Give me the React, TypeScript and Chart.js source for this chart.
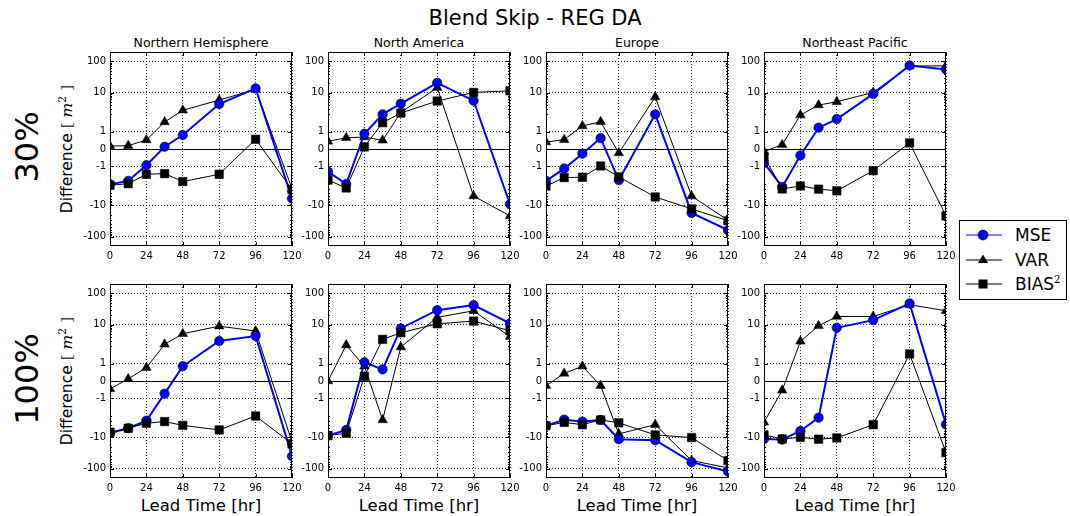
import React, { useEffect, useRef } from 'react';
import { Chart, registerables, LinearScale } from 'chart.js';

// ---------------- data ----------------
const leadTimes = [0, 12, 24, 36, 48, 72, 96, 120];
const xTickValues = [0, 24, 48, 72, 96, 120];
const yTickValues = [-100, -10, -1, 0, 1, 10, 100];
const yTickLabels = ['-100', '-10', '-1', '0', '1', '10', '100'];
const yMinorValues = [2, 3, 4, 5, 6, 7, 8, 9, 20, 30, 40, 50, 60, 70, 80, 90,
  -2, -3, -4, -5, -6, -7, -8, -9, -20, -30, -40, -50, -60, -70, -80, -90];
const regionNames = ['Northern Hemisphere', 'North America', 'Europe', 'Northeast Pacific'];
const rowLabels = ['30%', '100%'];
const seriesNames = ['MSE', 'VAR', 'BIAS'];

// 30 %
const nh30Mse = [-2.1, -1.84, -0.94, 0.13, 0.81, 4.3, 13.6, -6.0];
const nh30Var = [0.17, 0.19, 0.52, 1.56, 2.7, 5.75, 12.6, -2.9];
const nh30Bias = [-2.25, -2.0, -1.46, -1.42, -1.88, -1.46, 0.56, -3.1];

const na30Mse = [-1.31, -2.05, 0.88, 2.0, 4.4, 20.6, 5.5, -9.1];
const na30Var = [0.44, 0.65, 0.69, 0.5, 2.3, 14.3, -5.0, -21.7];
const na30Bias = [-1.79, -2.75, 0.12, 1.52, 2.2, 5.35, 10.1, 11.4];

const eu30Mse = [-1.84, -1.13, -0.27, 0.63, -1.8, 2.0, -17.4, -62];
const eu30Var = [0.4, 0.54, 1.33, 1.57, -0.23, 7.2, -5.0, -30];
const eu30Bias = [-2.4, -1.65, -1.63, -0.98, -1.61, -5.35, -12.9, -31];

const nep30Mse = [-0.8, -2.55, -0.37, 1.23, 1.73, 9.1, 74, 55];
const nep30Var = [-0.15, 0.25, 1.96, 3.97, 5.07, 10.1, 71, 72];
const nep30Bias = [-0.45, -2.96, -2.37, -3.0, -3.4, -1.25, 0.35, -21.7];

// 100 %
const nh100Mse = [-7.2, -5.07, -2.9, -0.73, 0.86, 2.96, 4.28, -40];
const nh100Var = [-0.46, 0.12, 0.77, 2.32, 5.07, 8.9, 6.2, -14];
const nh100Bias = [-6.8, -5.07, -3.5, -3.1, -4.1, -5.75, -2.05, -16];

const na100Mse = [-8.7, -5.75, 1.08, 0.67, 7.5, 29, 42, 10.9];
const na100Var = [0.0, 2.2, 0.85, -2.75, 1.96, 17, 27.7, 4.07];
const na100Bias = [-8.7, -7.35, 0.27, 3.35, 5.46, 10.6, 12.9, 6.34];

const eu100Mse = [-4.2, -2.69, -3.1, -2.75, -11.4, -12.3, -62, -124];
const eu100Var = [-0.27, 0.44, 0.85, -0.27, -7.7, -3.9, -55, -95];
const eu100Bias = [-4.2, -3.3, -3.9, -2.75, -3.4, -8.3, -10.1, -55];

const nep100Mse = [-11.2, -11.7, -6.2, -2.32, 7.9, 13.9, 47.6, -3.8];
const nep100Var = [-3.27, -0.54, 2.89, 9.1, 18.2, 18.2, 43.2, 27.7];
const nep100Bias = [-8.3, -11.2, -9.9, -11.4, -10.4, -3.9, 1.56, -30.6];

const panelTable = [
  [[nh30Mse, nh30Var, nh30Bias], [na30Mse, na30Var, na30Bias], [eu30Mse, eu30Var, eu30Bias], [nep30Mse, nep30Var, nep30Bias]],
  [[nh100Mse, nh100Var, nh100Bias], [na100Mse, na100Var, na100Bias], [eu100Mse, eu100Var, eu100Bias], [nep100Mse, nep100Var, nep100Bias]],
];

// ---------------- symlog scale (linthresh 2, linscale 1) ----------------
const LINTHRESH = 2;
const LINSCALE_ADJ = 1 / (1 - 1 / 10);
function symlog(v: number) {
  const a = Math.abs(v);
  if (a <= LINTHRESH) return v * LINSCALE_ADJ;
  return Math.sign(v) * LINTHRESH * (LINSCALE_ADJ + Math.log10(a / LINTHRESH));
}
function symexp(u: number) {
  const a = Math.abs(u);
  if (a <= LINTHRESH * LINSCALE_ADJ) return u / LINSCALE_ADJ;
  return Math.sign(u) * LINTHRESH * Math.pow(10, a / LINTHRESH - LINSCALE_ADJ);
}

class SymlogScale extends LinearScale {
  static id = 'symlog';
  static defaults = LinearScale.defaults;
  getPixelForValue(value: number) {
    const t0 = symlog(this.min as number);
    const t1 = symlog(this.max as number);
    return this.getPixelForDecimal((symlog(value) - t0) / (t1 - t0));
  }
  getValueForPixel(pixel: number) {
    const t0 = symlog(this.min as number);
    const t1 = symlog(this.max as number);
    return symexp(t0 + this.getDecimalForPixel(pixel) * (t1 - t0));
  }
}

Chart.register(...registerables, SymlogScale as any);

// ---------------- layout ----------------
const FONT = "'DejaVu Sans', sans-serif";
const COL_LEFT = [110, 328, 546, 764];
const ROW_TOP = [52, 284];
const PW = 182;
const PH = 194;
const AX_W = 45;
const AX_H = 20;
const PAD_T = 15;
const PAD_R = 15;
const CW = AX_W + PW + PAD_R;
const CH = PAD_T + PH + AX_H;

const framePlugin = {
  id: 'frame',
  beforeDatasetsDraw(chart: any) {
    const { ctx, chartArea: a, scales } = chart;
    const y0 = Math.round(scales.y.getPixelForValue(0)) + 0.5;
    ctx.save();
    ctx.strokeStyle = '#000';
    ctx.lineWidth = 1;
    ctx.beginPath();
    ctx.moveTo(a.left, y0);
    ctx.lineTo(a.right, y0);
    ctx.stroke();
    ctx.restore();
  },
  afterDatasetsDraw(chart: any) {
    const { ctx, chartArea: a, scales } = chart;
    ctx.save();
    ctx.strokeStyle = '#000';
    ctx.lineWidth = 1;
    ctx.beginPath();
    for (const v of yTickValues) {
      const y = Math.round(scales.y.getPixelForValue(v)) + 0.5;
      ctx.moveTo(a.left, y); ctx.lineTo(a.left + 4, y);
      ctx.moveTo(a.right, y); ctx.lineTo(a.right - 4, y);
    }
    for (const v of yMinorValues) {
      const y = Math.round(scales.y.getPixelForValue(v)) + 0.5;
      ctx.moveTo(a.left, y); ctx.lineTo(a.left + 2, y);
      ctx.moveTo(a.right, y); ctx.lineTo(a.right - 2, y);
    }
    for (const v of xTickValues) {
      const x = Math.round(scales.x.getPixelForValue(v)) + 0.5;
      ctx.moveTo(x, a.top); ctx.lineTo(x, a.top + 4);
      ctx.moveTo(x, a.bottom); ctx.lineTo(x, a.bottom - 4);
    }
    ctx.stroke();
    ctx.strokeRect(a.left + 0.5, a.top + 0.5, a.right - a.left - 1, a.bottom - a.top - 1);
    ctx.restore();
  },
};

function Panel({ values, left, top }: { values: number[][]; left: number; top: number }) {
  const ref = useRef<HTMLCanvasElement>(null);
  useEffect(() => {
    const pts = (vals: number[]) => leadTimes.map((x, i) => ({ x, y: vals[i] }));
    const [mse, vr, bias] = values;
    const tickFont = { family: FONT, size: 10 };
    const chart = new Chart(ref.current as HTMLCanvasElement, {
      type: 'line',
      data: {
        datasets: [
          {
            label: seriesNames[1], data: pts(vr), borderColor: '#000', borderWidth: 1,
            pointStyle: 'triangle', pointRadius: 5.5, pointBackgroundColor: '#000',
            pointBorderColor: '#000', pointBorderWidth: 0.5, order: 3, clip: 0 as any,
          },
          {
            label: seriesNames[0], data: pts(mse), borderColor: '#0000ff', borderWidth: 2,
            pointStyle: 'circle', pointRadius: 4.7, pointBackgroundColor: '#0000ff',
            pointBorderColor: '#000', pointBorderWidth: 0.6, order: 2, clip: 0 as any,
          },
          {
            label: seriesNames[2], data: pts(bias), borderColor: '#000', borderWidth: 1,
            pointStyle: 'rect', pointRadius: 6, pointBackgroundColor: '#000',
            pointBorderColor: '#000', pointBorderWidth: 0.5, order: 1, clip: 0 as any,
          },
        ],
      },
      options: {
        animation: false,
        responsive: false,
        maintainAspectRatio: false,
        events: [],
        layout: { padding: { left: 0, right: PAD_R, top: PAD_T, bottom: 0 } },
        plugins: { legend: { display: false }, tooltip: { enabled: false } },
        scales: {
          x: {
            type: 'linear', min: 0, max: 120, bounds: 'data',
            afterBuildTicks: (s: any) => { s.ticks = xTickValues.map((v) => ({ value: v })); },
            afterFit: (s: any) => { s.height = AX_H; },
            ticks: { font: tickFont, color: '#000', padding: 4, maxRotation: 0, autoSkip: false, callback: (v: any) => String(v) },
            grid: { color: 'rgba(0,0,0,0.8)', lineWidth: 1, drawTicks: false },
            border: { display: false, dash: [1, 2] },
          },
          y: {
            type: 'symlog' as any, min: -200, max: 200, bounds: 'data',
            afterBuildTicks: (s: any) => { s.ticks = yTickValues.map((v) => ({ value: v })); },
            afterFit: (s: any) => { s.width = AX_W; },
            ticks: {
              font: tickFont, color: '#000', padding: 4, autoSkip: false,
              callback: (v: any) => { const i = yTickValues.indexOf(Number(v)); return i >= 0 ? yTickLabels[i] : ''; },
            },
            grid: {
              color: (c: any) => (c.tick && c.tick.value === 0 ? 'rgba(0,0,0,0)' : 'rgba(0,0,0,0.8)'),
              lineWidth: 1, drawTicks: false,
            },
            border: { display: false, dash: [1, 2] },
          },
        },
      } as any,
      plugins: [framePlugin],
    });
    return () => chart.destroy();
  }, []);
  return (
    <canvas
      ref={ref}
      width={CW}
      height={CH}
      style={{ position: 'absolute', left: left - AX_W, top: top - PAD_T, width: CW, height: CH }}
    />
  );
}

const textBase: React.CSSProperties = {
  position: 'absolute', whiteSpace: 'nowrap', lineHeight: 1, color: '#000', fontFamily: FONT,
};

function Centered({ x, y, size, rotate, children }: any) {
  return (
    <div style={{ ...textBase, left: x, top: y, fontSize: size, transform: `translate(-50%, -50%)${rotate ? ' rotate(-90deg)' : ''}` }}>
      {children}
    </div>
  );
}

function LegendSymbol({ kind }: { kind: string }) {
  return (
    <svg width={38} height={14} style={{ position: 'absolute', left: 6, top: -7 }}>
      <line x1={0} y1={7} x2={36} y2={7} stroke={kind === 'MSE' ? '#0000ff' : '#000'} strokeWidth={1} />
      {kind === 'MSE' && <circle cx={17} cy={7} r={5} fill="#0000ff" stroke="#000" strokeWidth={0.6} />}
      {kind === 'VAR' && <polygon points="17,1.5 22,10 12,10" fill="#000" />}
      {kind === 'BIAS' && <rect x={12.5} y={2.5} width={9} height={9} fill="#000" />}
    </svg>
  );
}

export default function App() {
  const legendRows = [234, 259, 283];
  return (
    <div style={{ position: 'absolute', left: 0, top: 0, width: 1070, height: 516, background: '#fff', overflow: 'hidden' }}>
      <Centered x={535} y={18} size={21}>Blend Skip - REG DA</Centered>
      {regionNames.map((n, c) => (
        <Centered key={n} x={COL_LEFT[c] + PW / 2} y={43} size={12.5}>{n}</Centered>
      ))}
      {rowLabels.map((r, ri) => (
        <React.Fragment key={r}>
          <Centered x={27} y={ROW_TOP[ri] + PH / 2 - 2} size={32} rotate>{r}</Centered>
          <Centered x={67} y={ROW_TOP[ri] + PH / 2} size={15.5} rotate>
            Difference{' '}
            <span style={{ fontFamily: "'DejaVu Serif', serif", color: '#444' }}>[ </span>
            <span style={{ fontFamily: "'DejaVu Serif', serif", fontStyle: 'italic' }}>m</span>
            <sup style={{ fontSize: '0.7em', fontFamily: "'DejaVu Serif', serif" }}>2</sup>
            <span style={{ fontFamily: "'DejaVu Serif', serif", color: '#444' }}> ]</span>
          </Centered>
        </React.Fragment>
      ))}
      {COL_LEFT.map((l, c) => (
        <Centered key={c} x={l + PW / 2} y={506} size={16.5}>Lead Time [hr]</Centered>
      ))}
      {panelTable.map((row, ri) =>
        row.map((vals, ci) => (
          <Panel key={`${ri}-${ci}`} values={vals} left={COL_LEFT[ci]} top={ROW_TOP[ri]} />
        ))
      )}
      <div style={{ position: 'absolute', left: 959, top: 220, width: 108, height: 80, border: '1px solid #000', boxSizing: 'border-box', background: '#fff' }}>
        {seriesNames.map((s, i) => (
          <div key={s} style={{ position: 'absolute', left: 0, top: legendRows[i] - 220 }}>
            <LegendSymbol kind={s} />
            <div style={{ ...textBase, left: 55, top: 0, fontSize: 17, transform: 'translateY(-50%)' }}>
              {s === 'BIAS' ? <>BIAS<sup style={{ fontSize: '0.6em', fontFamily: "'DejaVu Serif', serif" }}>2</sup></> : s}
            </div>
          </div>
        ))}
      </div>
    </div>
  );
}
